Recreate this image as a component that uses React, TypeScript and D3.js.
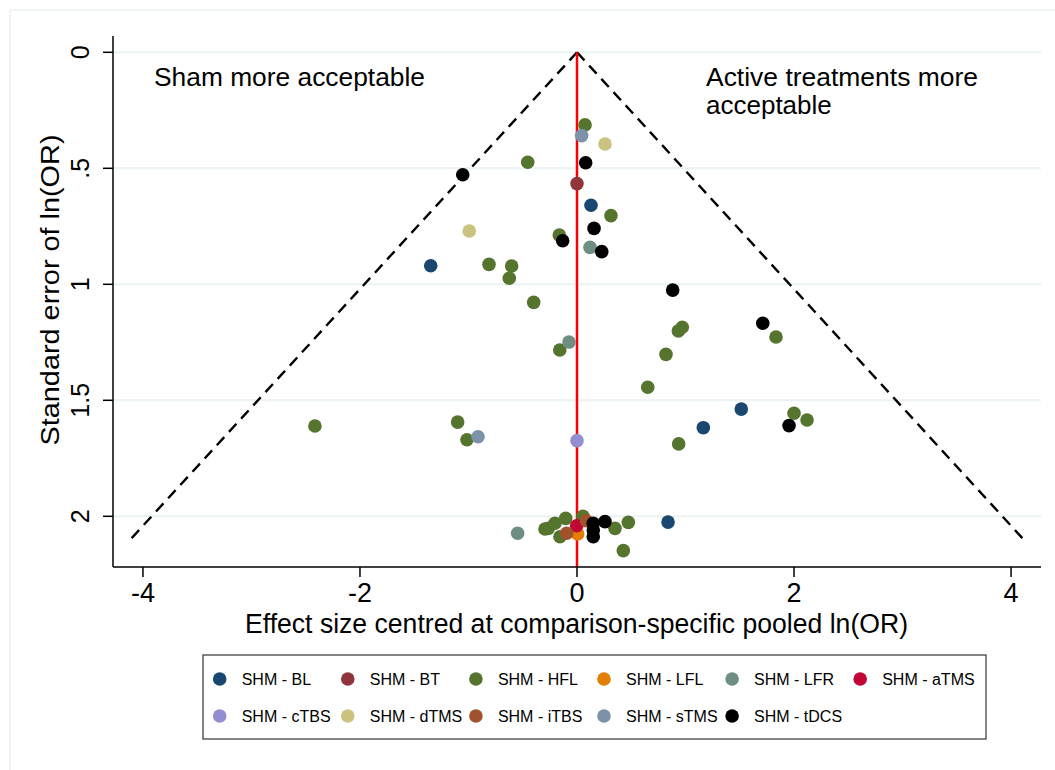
import React from "react";
import * as d3 from "d3";

// ---- data: [effect size (centred ln OR), standard error] ----
const BL: [number, number][] = [[0.129, 0.659], [-1.348, 0.92], [1.514, 1.538], [1.164, 1.618], [0.839, 2.025]];
const BT: [number, number][] = [[0, 0.566]];
const HFL: [number, number][] = [
  [0.074, 0.313], [-0.454, 0.474], [0.313, 0.704], [-0.163, 0.788], [-0.811, 0.914], [-0.602, 0.921],
  [-0.624, 0.974], [-0.399, 1.078], [0.97, 1.185], [0.934, 1.201], [1.834, 1.227], [-0.159, 1.283],
  [0.82, 1.302], [0.652, 1.444], [2.0, 1.556], [2.12, 1.585], [-1.1, 1.594], [-2.415, 1.611],
  [-1.014, 1.67], [0.937, 1.688], [-0.295, 2.055], [-0.265, 2.052], [-0.203, 2.03], [-0.104, 2.009],
  [-0.157, 2.088], [0.055, 2.0], [0.35, 2.052], [0.473, 2.026], [0.427, 2.148],
];
const LFL: [number, number][] = [[0.006, 2.076]];
const LFR: [number, number][] = [[0.12, 0.841], [-0.074, 1.249], [-0.547, 2.073]];
const ATMS: [number, number][] = [[-0.003, 2.041]];
const CTBS: [number, number][] = [[0, 1.674]];
const DTMS: [number, number][] = [[0.258, 0.395], [-0.993, 0.77]];
const ITBS: [number, number][] = [[-0.095, 2.073], [0.086, 2.019]];
const STMS: [number, number][] = [[0.043, 0.359], [-0.912, 1.657]];
const TDCS: [number, number][] = [
  [0.08, 0.476], [-1.053, 0.528], [0.157, 0.759], [-0.132, 0.812], [0.228, 0.859], [0.882, 1.025],
  [1.712, 1.168], [1.954, 1.609], [0.15, 2.03], [0.258, 2.023], [0.15, 2.059], [0.15, 2.088],
];

const seriesLabels = [
  "SHM - BL", "SHM - BT", "SHM - HFL", "SHM - LFL", "SHM - LFR", "SHM - aTMS",
  "SHM - cTBS", "SHM - dTMS", "SHM - iTBS", "SHM - sTMS", "SHM - tDCS",
];
const seriesColors = [
  "#1a476f", "#90353b", "#55752f", "#e37e00", "#6e8e84", "#c10534",
  "#938dd2", "#cac27e", "#a0522d", "#7b92a8", "#000000",
];
const seriesData = [BL, BT, HFL, LFL, LFR, ATMS, CTBS, DTMS, ITBS, STMS, TDCS];

const xTicks = [-4, -2, 0, 2, 4];
const yTicks = [0, 0.5, 1, 1.5, 2];
const yTickLabels = ["0", ".5", "1", "1.5", "2"];
const funnelSEMax = 2.1;
const z = 1.96;

const FONT = "'Liberation Sans', Arial, Helvetica, sans-serif";

export default function App() {
  const W = 1055, H = 770;
  const left = 113, right = 1041, top = 36, bottom = 567;
  const x = d3.scaleLinear().domain([-4.276, 4.276]).range([left, right]);
  const y = d3.scaleLinear().domain([0, 2]).range([52.3, 516.3]);
  const yMaxVal = y.invert(bottom);

  const funnelLine = d3.line<[number, number]>().x((d) => x(d[0])).y((d) => y(d[1]));
  const leftFunnel: [number, number][] = [[0, 0], [-z * funnelSEMax, funnelSEMax]];
  const rightFunnel: [number, number][] = [[0, 0], [z * funnelSEMax, funnelSEMax]];

  const legX0 = 219.7, legDX = 128.1, legY0 = 679, legDY = 37;

  return (
    <svg width={W} height={H} style={{ position: "absolute", left: 0, top: 0, background: "#fff" }} fontFamily={FONT}>
      <rect x={0} y={0} width={W} height={H} fill="#fff" />
      <rect x={10} y={10} width={1100} height={800} fill="none" stroke="#eaf2f3" strokeWidth={1.5} />

      {/* grid */}
      {yTicks.map((t) => (
        <line key={"g" + t} x1={left} x2={right} y1={y(t)} y2={y(t)} stroke="#eaf2f3" strokeWidth={2} />
      ))}

      {/* funnel */}
      <path d={funnelLine(leftFunnel) || ""} stroke="#000" strokeWidth={2.4} strokeDasharray="11 7" fill="none" />
      <path d={funnelLine(rightFunnel) || ""} stroke="#000" strokeWidth={2.4} strokeDasharray="11 7" fill="none" />
      <line x1={x(0)} x2={x(0)} y1={y(0)} y2={y(yMaxVal)} stroke="#ff0000" strokeWidth={2.5} />

      {/* axes */}
      <line x1={left} x2={left} y1={top} y2={bottom} stroke="#000" strokeWidth={1.5} />
      <line x1={left} x2={right} y1={bottom} y2={bottom} stroke="#000" strokeWidth={1.5} />
      {yTicks.map((t, i) => (
        <g key={"yt" + t}>
          <line x1={left - 10} x2={left} y1={y(t)} y2={y(t)} stroke="#000" strokeWidth={1.5} />
          <text x={89} y={y(t)} transform={`rotate(-90 89 ${y(t)})`} textAnchor="middle" fontSize={25} fill="#000">
            {yTickLabels[i]}
          </text>
        </g>
      ))}
      {xTicks.map((t) => (
        <g key={"xt" + t}>
          <line x1={x(t)} x2={x(t)} y1={bottom} y2={bottom + 10} stroke="#000" strokeWidth={1.5} />
          <text x={x(t)} y={602} textAnchor="middle" fontSize={27} fill="#000">
            {t === 0 ? "0" : t < 0 ? "-" + Math.abs(t) : String(t)}
          </text>
        </g>
      ))}
      <text x={576.5} y={633} textAnchor="middle" fontSize={27} textLength={663} lengthAdjust="spacingAndGlyphs" fill="#000">
        Effect size centred at comparison-specific pooled ln(OR)
      </text>
      <text x={59} y={290} transform="rotate(-90 59 290)" textAnchor="middle" fontSize={26} textLength={311} lengthAdjust="spacingAndGlyphs" fill="#000">
        Standard error of ln(OR)
      </text>

      {/* annotations */}
      <text x={154} y={86} fontSize={26} textLength={271} lengthAdjust="spacingAndGlyphs" fill="#000">Sham more acceptable</text>
      <text x={706} y={86} fontSize={26} textLength={272} lengthAdjust="spacingAndGlyphs" fill="#000">Active treatments more</text>
      <text x={706} y={114} fontSize={26} fill="#000">acceptable</text>

      {/* markers */}
      {seriesData.map((pts, si) => (
        <g key={"s" + si}>
          {pts.map((p, j) => (
            <circle key={j} cx={x(p[0])} cy={y(p[1])} r={6.8} fill={seriesColors[si]} />
          ))}
        </g>
      ))}

      {/* legend */}
      <rect x={203} y={655} width={783} height={84} fill="#fff" stroke="#333" strokeWidth={1.2} />
      {seriesLabels.map((lab, i) => {
        const col = i % 6, row = Math.floor(i / 6);
        const cx = legX0 + col * legDX, cy = legY0 + row * legDY;
        return (
          <g key={"l" + i}>
            <circle cx={cx} cy={cy} r={6.8} fill={seriesColors[i]} />
            <text x={cx + 22} y={cy + 5.5} fontSize={16} fill="#000">{lab}</text>
          </g>
        );
      })}
    </svg>
  );
}
